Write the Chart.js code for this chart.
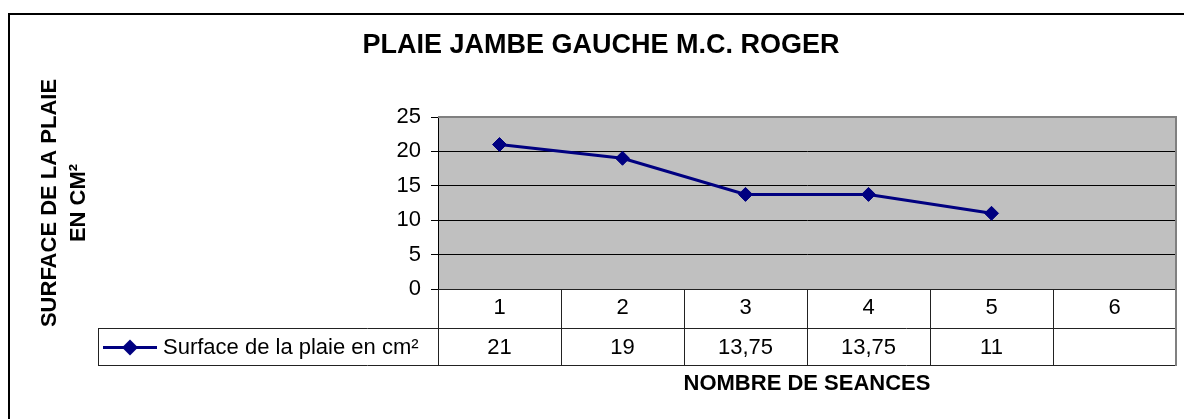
<!DOCTYPE html>
<html>
<head>
<meta charset="utf-8">
<script src="https://cdn.jsdelivr.net/npm/chart.js@4"></script>
<style>
  html, body { margin: 0; padding: 0; background: #fff; }
  canvas { display: block; }
</style>
</head>
<body>
<canvas id="chart" width="1184" height="419"></canvas>
<script>
const TITLE = 'PLAIE JAMBE GAUCHE M.C. ROGER';
const Y_TITLE = ['SURFACE DE LA PLAIE', 'EN CM²'];
const X_TITLE = 'NOMBRE DE SEANCES';
const SERIES_NAME = 'Surface de la plaie en cm²';

const seances = ['1', '2', '3', '4', '5', '6'];
const surface = [21, 19, 13.75, 13.75, 11, null];
const yTicks = [0, 5, 10, 15, 20, 25];

const NAVY = '#000080';
const FONT = "'Liberation Sans', Arial, sans-serif";

Chart.defaults.font.family = FONT;
Chart.defaults.color = '#000';

// grey plot area, data table under the axis, outer frame
const tablePlugin = {
  id: 'tablePlugin',
  beforeDraw(chart) {
    const { ctx, chartArea: a } = chart;
    ctx.save();
    ctx.fillStyle = '#C0C0C0';
    ctx.fillRect(a.left, a.top, a.right - a.left, a.bottom - a.top);
    ctx.restore();
  },
  afterDraw(chart) {
    const { ctx, chartArea: a } = chart;
    const x = chart.scales.x;
    const step = (a.right - a.left) / seances.length;
    const row1 = a.bottom + 39;
    const row2 = row1 + 37;
    const legendLeft = 98;

    ctx.save();
    // plot area border
    ctx.strokeStyle = '#808080';
    ctx.lineWidth = 2;
    ctx.beginPath();
    ctx.moveTo(a.left, a.top);
    ctx.lineTo(a.right, a.top);
    ctx.lineTo(a.right, a.bottom);
    ctx.stroke();

    // table grid
    ctx.strokeStyle = '#222';
    ctx.lineWidth = 1;
    ctx.beginPath();
    ctx.moveTo(a.left, a.bottom + 0.5);
    ctx.lineTo(a.right, a.bottom + 0.5);
    ctx.moveTo(legendLeft, row1 + 0.5);
    ctx.lineTo(a.right, row1 + 0.5);
    ctx.moveTo(legendLeft, row2 + 0.5);
    ctx.lineTo(a.right, row2 + 0.5);
    ctx.moveTo(legendLeft + 0.5, row1);
    ctx.lineTo(legendLeft + 0.5, row2);
    for (let i = 0; i <= seances.length; i++) {
      const px = Math.round(x.getPixelForValue(i) - step / 2) + 0.5;
      ctx.moveTo(px, a.bottom);
      ctx.lineTo(px, row2);
    }
    ctx.stroke();
    ctx.strokeStyle = '#808080';
    ctx.lineWidth = 2;
    ctx.beginPath();
    ctx.moveTo(a.right, a.bottom);
    ctx.lineTo(a.right, row2 + 1);
    ctx.stroke();

    // values row
    ctx.fillStyle = '#000';
    ctx.font = '22px ' + FONT;
    ctx.textAlign = 'center';
    ctx.textBaseline = 'middle';
    const midY = (row1 + row2) / 2 + 1;
    surface.forEach((v, i) => {
      if (v === null) return;
      ctx.fillText(String(v).replace('.', ','), x.getPixelForValue(i), midY);
    });

    // legend key
    ctx.strokeStyle = NAVY;
    ctx.lineWidth = 3;
    ctx.beginPath();
    ctx.moveTo(103, midY);
    ctx.lineTo(157, midY);
    ctx.stroke();
    ctx.fillStyle = NAVY;
    ctx.beginPath();
    ctx.moveTo(130, midY - 8);
    ctx.lineTo(138, midY);
    ctx.lineTo(130, midY + 8);
    ctx.lineTo(122, midY);
    ctx.closePath();
    ctx.fill();
    ctx.fillStyle = '#000';
    ctx.textAlign = 'left';
    ctx.fillText(SERIES_NAME, 163, midY);

    // outer frame
    ctx.strokeStyle = '#000';
    ctx.lineWidth = 2;
    ctx.beginPath();
    ctx.moveTo(9, chart.height);
    ctx.lineTo(9, 14);
    ctx.lineTo(chart.width, 14);
    ctx.stroke();
    ctx.restore();
  }
};

new Chart(document.getElementById('chart'), {
  type: 'line',
  data: {
    labels: seances,
    datasets: [{
      label: SERIES_NAME,
      data: surface,
      borderColor: NAVY,
      backgroundColor: NAVY,
      borderWidth: 3,
      tension: 0,
      pointStyle: 'rectRot',
      pointRadius: 7,
      pointHoverRadius: 7,
      pointBackgroundColor: NAVY,
      pointBorderColor: NAVY,
      pointBorderWidth: 1
    }]
  },
  options: {
    responsive: false,
    devicePixelRatio: 1,
    animation: false,
    layout: { padding: { left: 26, right: 8, top: 0, bottom: 0 } },
    plugins: {
      legend: { display: false },
      tooltip: { enabled: false },
      title: {
        display: true,
        text: TITLE,
        font: { size: 27, weight: 'bold' },
        lineHeight: 1.2,
        padding: { top: 29, bottom: 55.6 }
      }
    },
    scales: {
      x: {
        type: 'category',
        offset: true,
        grid: { display: false, drawTicks: false },
        border: { display: false },
        ticks: { padding: 6, font: { size: 22 }, color: '#000' },
        title: {
          display: true,
          text: X_TITLE,
          font: { size: 22, weight: 'bold' },
          padding: { top: 0, bottom: 22 }
        },
        afterFit(scale) { scale.height = 130; }
      },
      y: {
        min: 0,
        max: 25,
        afterBuildTicks(scale) { scale.ticks = yTicks.map(v => ({ value: v })); },
        grid: { color: '#000', lineWidth: 1, tickLength: 7, tickColor: '#000' },
        border: { display: true, color: '#000', width: 1 },
        ticks: { padding: 10, font: { size: 22 }, color: '#000' },
        title: {
          display: true,
          text: Y_TITLE,
          font: { size: 22, weight: 'bold', lineHeight: 1.3 },
          padding: { top: 10, bottom: 0 }
        },
        afterFit(scale) { scale.width = 412; }
      }
    }
  },
  plugins: [tablePlugin]
});
</script>
</body>
</html>
